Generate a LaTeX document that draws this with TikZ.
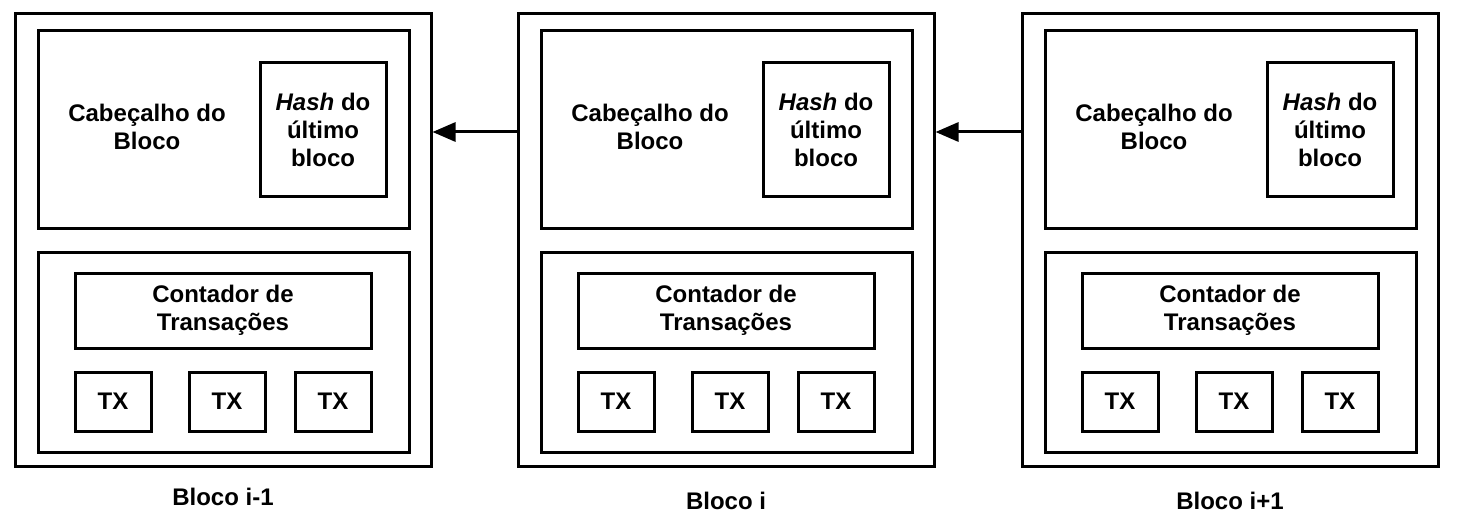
\documentclass[tikz,border=0pt]{standalone}
\usepackage{fontspec}
\setmainfont{Liberation Sans}
\usetikzlibrary{arrows.meta}
\tikzset{
  caixa/.style={draw, line width=3pt, inner sep=0pt},
  rotulo/.style={font=\fontsize{24}{28}\selectfont\bfseries, align=center},
  seta/.style={line width=3pt, -{Triangle[length=23pt, width=19pt]}},
}
\begin{document}
\begin{tikzpicture}[x=1pt, y=-1pt]
  \useasboundingbox (0,0) rectangle (1458,532);
  % tres blocos iguais
  \foreach \n/\x/\ly/\nome in {1/223/497/i-1, 2/726/501/i, 3/1230/501/i+1} {
    \node[caixa, minimum width=416pt, minimum height=452pt] (bloco\n) at (\x,240) {};
    \node[caixa, minimum width=371pt, minimum height=198pt] (cab\n) at (\x+0.5,129.5) {};
    \node[rotulo] (cabtxt\n) at (\x-76,127) {Cabeçalho do\\Bloco};
    \node[caixa, rotulo, minimum width=126pt, minimum height=133pt] (hash\n) at (\x+100,129.5) {\textit{Hash} do\\último\\bloco};
    \node[caixa, minimum width=371pt, minimum height=200pt] (corpo\n) at (\x+0.5,352) {};
    \node[caixa, rotulo, minimum width=296pt, minimum height=75pt] (cont\n) at (\x,310.5) {Contador de\\Transações};
    \node[caixa, rotulo, minimum width=76pt, minimum height=59pt] (txa\n) at (\x-110,401.5) {TX};
    \node[caixa, rotulo, minimum width=76pt, minimum height=59pt] (txb\n) at (\x+4,401.5) {TX};
    \node[caixa, rotulo, minimum width=76pt, minimum height=59pt] (txc\n) at (\x+110,401.5) {TX};
    \node[rotulo] (nome\n) at (\x,\ly) {Bloco \nome};
  }
  % ligacoes entre blocos
  \coordinate (ref2) at ([yshift=-2.5pt]hash2.center);
  \coordinate (ref3) at ([yshift=-2.5pt]hash3.center);
  \draw[seta] (bloco2.west |- ref2) -- (bloco1.east |- ref2);
  \draw[seta] (bloco3.west |- ref3) -- (bloco2.east |- ref3);
\end{tikzpicture}
\end{document}
